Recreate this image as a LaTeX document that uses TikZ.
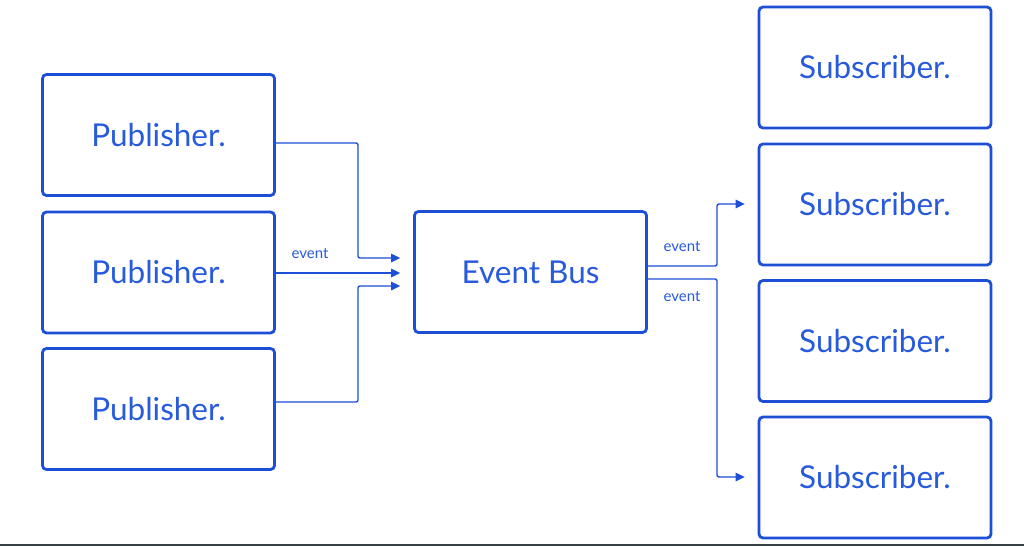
\documentclass[tikz,border=0pt]{standalone}
\usepackage{fontspec}
\setmainfont{Lato}
\usetikzlibrary{arrows.meta}
\definecolor{busblue}{RGB}{28,78,214}
\definecolor{txtblue}{RGB}{40,90,220}
\definecolor{edgegray}{RGB}{58,64,72}
\begin{document}
\begin{tikzpicture}[x=1pt,y=-1pt,
  box/.style={draw=busblue,line width=2.8pt,rounded corners=4pt,minimum width=232pt,minimum height=121pt,inner sep=0pt,text=txtblue,font=\fontsize{31.5}{34}\selectfont},
  conn/.style={draw=busblue,line width=1.4pt,rounded corners=2pt},
  arr/.style={conn,-{Triangle[length=9pt,width=8.5pt]}},
  lbl/.style={text=txtblue,font=\fontsize{15}{17}\selectfont,inner sep=0pt}]
\useasboundingbox (0,0) rectangle (1024,546);
\fill[white] (0,0) rectangle (1024,546);
\draw[edgegray,line width=2pt] (0,545) -- (1024,545);
% publishers
\node[box] (p1) at (158.5,135) {Publisher.};
\node[box] (p2) at (158.5,272.5) {Publisher.};
\node[box] (p3) at (158.5,409) {Publisher.};
% bus
\node[box] (bus) at (530.5,272) {Event Bus};
% subscribers
\node[box] (s1) at (875,67.5) {Subscriber.};
\node[box] (s2) at (875,204.5) {Subscriber.};
\node[box] (s3) at (875,341) {Subscriber.};
\node[box] (s4) at (875,477.5) {Subscriber.};
% left connectors
\coordinate (t1) at (bus.west |- 0,258);
\coordinate (t2) at (bus.west |- 0,273);
\coordinate (t3) at (bus.west |- 0,286);
\draw[arr] (p1.east |- 0,143) -| (358,258) -- ([xshift=-13pt]t1);
\draw[arr] (p2.east |- 0,273) -- ([xshift=-13pt]t2);
\draw[arr] (p3.east |- 0,402) -| (358,286) -- ([xshift=-13pt]t3);
\node[lbl] (e1) at (310,254) {event};
% right connectors
\coordinate (u1) at (s2.west |- 0,204);
\coordinate (u2) at (s4.west |- 0,477);
\draw[arr] (bus.east |- 0,266) -| (717,204) -- ([xshift=-13pt]u1);
\draw[arr] (bus.east |- 0,279) -| (717,477) -- ([xshift=-13pt]u2);
\node[lbl] (e2) at (682,247) {event};
\node[lbl] (e3) at (682,297) {event};
\end{tikzpicture}
\end{document}
